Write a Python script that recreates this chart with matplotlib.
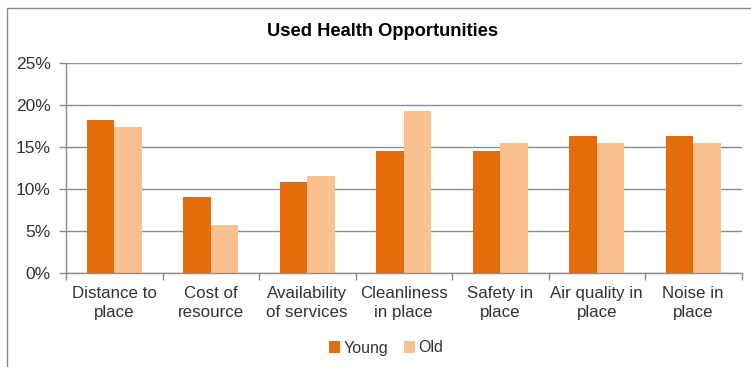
import matplotlib
matplotlib.use("Agg")
import matplotlib.pyplot as plt
from matplotlib.patches import Rectangle, Patch
from matplotlib.ticker import FuncFormatter, MultipleLocator
import numpy as np

plt.rcParams['font.family'] = ['Liberation Sans', 'DejaVu Sans']

categories = ["Distance to\nplace", "Cost of\nresource", "Availability\nof services",
              "Cleanliness\nin place", "Safety in\nplace", "Air quality in\nplace",
              "Noise in\nplace"]
young = [18.2, 9.1, 10.9, 14.6, 14.6, 16.4, 16.4]
old = [17.4, 5.8, 11.6, 19.3, 15.5, 15.5, 15.5]
series_names = ["Young", "Old"]

c_young = "#E46C0A"
c_old = "#FAC090"
text_col = "#333333"
grid_col = "#8C8C8C"

W, H = 751, 367
fig = plt.figure(figsize=(W / 100, H / 100), dpi=100)

# outer chart frame (top and left edges visible)
fig.patches.append(Rectangle((7 / W, -0.1), 1.2, (H - 8) / H + 0.1, transform=fig.transFigure,
                             fill=False, edgecolor="#8A8A8A", linewidth=1.0))

ax = fig.add_axes([66 / W, (H - 273.3) / H, (741.5 - 66) / W, (273.3 - 63.3) / H])

x = np.arange(len(categories))
bw = 0.285
ax.bar(x - bw / 2, young, width=bw, color=c_young, zorder=3)
ax.bar(x + bw / 2, old, width=bw, color=c_old, zorder=3)

ax.set_xlim(-0.5, len(categories) - 0.5)
ax.set_ylim(0, 25)
ax.yaxis.set_major_locator(MultipleLocator(5))
ax.yaxis.set_major_formatter(FuncFormatter(lambda v, p: f"{v:.0f}%"))
ax.grid(axis="y", color=grid_col, linewidth=1.0, zorder=0)

ax.set_xticks(x)
ax.set_xticklabels(categories, linespacing=1.35)
ax.set_xticks(np.arange(-0.5, len(categories)), minor=True)
ax.tick_params(axis="x", which="major", length=0, pad=9, labelsize=12.2,
               labelcolor=text_col)
ax.tick_params(axis="x", which="minor", length=5, width=1, color=grid_col)
ax.tick_params(axis="y", length=5, width=1, color=grid_col, pad=6, labelsize=12.5,
               labelcolor=text_col)

for s in ["top", "right"]:
    ax.spines[s].set_visible(False)
for s in ["left", "bottom"]:
    ax.spines[s].set_color(grid_col)
    ax.spines[s].set_linewidth(1.0)
    ax.spines[s].set_zorder(4)

fig.text(383 / W, (H - 32) / H, "Used Health Opportunities", ha="center", va="center",
         fontsize=13.2, fontweight="bold", color="black")

handles = [Patch(facecolor=c_young, edgecolor="none"), Patch(facecolor=c_old, edgecolor="none")]
fig.legend(handles, series_names, loc="center", bbox_to_anchor=(386 / W, (H - 348) / H),
           ncol=2, frameon=False, fontsize=11.5, handlelength=0.7, handleheight=0.7,
           handletextpad=0.2, columnspacing=1.0, labelcolor=text_col)

fig.savefig("out.png", dpi=100)
